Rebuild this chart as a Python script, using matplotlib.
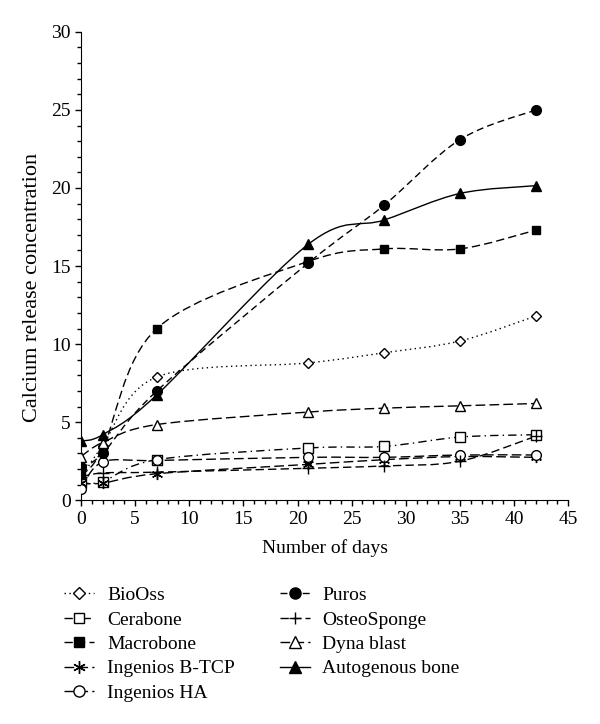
import matplotlib
matplotlib.use('Agg')
import matplotlib.pyplot as plt
import numpy as np
from matplotlib.path import Path
from matplotlib.patches import PathPatch
from matplotlib.lines import Line2D
from matplotlib.ticker import MultipleLocator

plt.rcParams['font.family'] = ['Liberation Serif', 'DejaVu Serif']
plt.rcParams['font.size'] = 14

days = [0, 2, 7, 21, 28, 35, 42]

bioss = [1.4, 3.5, 7.9, 8.8, 9.45, 10.2, 11.8]
cerabone = [1.1, 1.2, 2.6, 3.35, 3.45, 4.05, 4.2]
macrobone = [1.6, 3.3, 11.0, 15.3, 16.1, 16.1, 17.3]
btcp = [1.1, 1.1, 1.7, 2.3, 2.6, 2.8, 2.75]
ingenios_ha = [0.75, 2.45, 2.55, 2.75, 2.75, 2.9, 2.9]
puros = [2.1, 3.0, 7.0, 15.2, 18.9, 23.1, 25.0]
osteosponge = [1.5, 1.75, 1.8, 2.05, 2.2, 2.5, 4.1]
dyna_blast = [2.8, 3.7, 4.85, 5.65, 5.9, 6.05, 6.2]
autogenous = [3.8, 4.2, 6.75, 16.4, 17.95, 19.65, 20.15]

labels = ['BioOss', 'Cerabone', 'Macrobone', 'Ingenios B-TCP', 'Ingenios HA',
          'Puros', 'OsteoSponge', 'Dyna blast', 'Autogenous bone']
series = [bioss, cerabone, macrobone, btcp, ingenios_ha,
          puros, osteosponge, dyna_blast, autogenous]

# (linestyle, marker, facecolor, markersize)
styles = [
    ((0, (1, 2.5)), 'D', 'white', 5),
    ((0, (6, 3, 1, 3)), 's', 'white', 6.5),
    ((0, (6, 3)), 's', 'black', 6),
    ((0, (7, 3)), (6, 2, 0), 'black', 8),
    ((0, (7, 3)), 'o', 'white', 7),
    ((0, (5, 3)), 'o', 'black', 7),
    ((0, (6, 3)), '+', 'black', 8),
    ((0, (7, 3)), '^', 'white', 7),
    ('-', '^', 'black', 7),
]


def smooth_path(x, y):
    # excel style smoothed line: catmull-rom segments as cubic beziers
    pts = np.column_stack([x, y]).astype(float)
    n = len(pts)
    verts = [pts[0]]
    codes = [Path.MOVETO]
    for i in range(n - 1):
        p0 = pts[i - 1] if i > 0 else pts[i]
        p1 = pts[i]
        p2 = pts[i + 1]
        p3 = pts[i + 2] if i + 2 < n else pts[i + 1]
        c1 = p1 + (p2 - p0) / 6.0
        c2 = p2 - (p3 - p1) / 6.0
        verts += [c1, c2, p2]
        codes += [Path.CURVE4] * 3
    return Path(verts, codes)


fig = plt.figure(figsize=(6, 7.24), dpi=100)
ax = fig.add_axes([0.135, 0.309, 0.812, 0.647])

handles = []
for vals, (ls, mk, fc, ms) in zip(series, styles):
    patch = PathPatch(smooth_path(days, vals), facecolor='none',
                      edgecolor='black', lw=1.0, linestyle=ls, zorder=2)
    ax.add_patch(patch)
    ax.plot(days, vals, linestyle='none', marker=mk, markersize=ms,
            markerfacecolor=fc, markeredgecolor='black', markeredgewidth=1.0,
            zorder=3)
    handles.append(Line2D([], [], color='black', lw=1.0, linestyle=ls,
                          marker=mk, markersize=ms + 1, markerfacecolor=fc,
                          markeredgecolor='black', markeredgewidth=1.0))

ax.set_xlim(0, 45)
ax.set_ylim(0, 30)
ax.xaxis.set_major_locator(MultipleLocator(5))
ax.xaxis.set_minor_locator(MultipleLocator(1))
ax.yaxis.set_major_locator(MultipleLocator(5))
ax.yaxis.set_minor_locator(MultipleLocator(1))
ax.tick_params(which='major', direction='out', length=4, width=1)
ax.tick_params(which='minor', direction='out', length=3, width=1)
ax.spines['top'].set_visible(False)
ax.spines['right'].set_visible(False)
ax.set_xlabel('Number of days', labelpad=8)
ax.set_ylabel('Calcium release concentration', fontsize=16)
ax.yaxis.set_label_coords(-0.08, 0.455)

fig.legend(handles, labels, ncol=2, loc='upper left',
           bbox_to_anchor=(0.078, 0.214), frameon=False, fontsize=14,
           handlelength=1.55, handletextpad=0.65, labelspacing=0.35,
           columnspacing=2.3)

fig.savefig('out.png', dpi=100)
